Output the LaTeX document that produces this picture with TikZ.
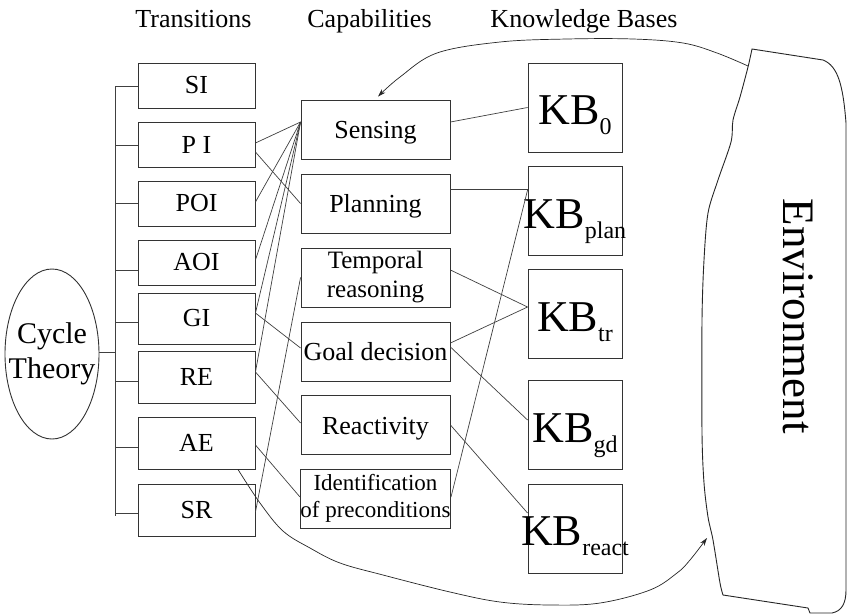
\documentclass[tikz,border=0pt]{standalone}
\usepackage{fontspec}
\setmainfont{Liberation Serif}
\usetikzlibrary{shapes.geometric,arrows.meta}
\newcommand{\fsz}[2]{\fontsize{#1}{#2}\selectfont}
\newcommand{\kbsub}[1]{\raisebox{-10pt}{\fsz{24}{26}#1}}
\begin{document}
\begin{tikzpicture}[x=1pt,y=-1pt,
  boxline/.style={draw=black!80, line width=0.9pt, inner sep=0pt},
  transbox/.style={boxline, minimum width=117pt, font=\fsz{26}{30}},
  capbox/.style={boxline, minimum width=149pt, minimum height=59pt, align=center, font=\fsz{26}{30}},
  oneline/.style={text height=18pt, text depth=0pt},
  kbbox/.style={boxline, minimum width=94pt, minimum height=89pt},
  kbtext/.style={inner sep=0pt, text height=34pt, text depth=0pt, font=\fsz{44}{48}},
  linkline/.style={draw=black!75, line width=0.7pt},
  envline/.style={draw=black!85, line width=0.9pt},
  headtext/.style={anchor=base, font=\fsz{26}{30}},
  arrowtip/.style={-{Stealth[length=8pt,width=5pt]}}
]
\fill[white] (0,0) rectangle (848,614);
\useasboundingbox (0,0) rectangle (848,614);

% column headings
\node[headtext] (hT) at (193.5,27) {Transitions};
\node[headtext] (hC) at (369.5,27) {Capabilities};
\node[headtext] (hK) at (584,27) {Knowledge Bases};

% cycle theory and the bus to the transitions
\node[boxline, ellipse, minimum width=94pt, minimum height=170pt] (cyc) at (52,354) {};
\node[align=center, inner sep=0pt, font=\fsz{30}{35}] (cycText) at (cyc.center) {Cycle\\Theory};
\coordinate (busTop) at (115,86);
\coordinate (busBot) at (115,516);
\draw[linkline] (busTop) -- (busBot);
\draw[linkline] ([yshift=2pt]cyc.east) -- ([yshift=2pt]cyc.east -| busTop);

% transitions
\node[transbox, minimum height=45pt] (SI)  at (196.5,85.5)  {SI};
\node[transbox, minimum height=45pt] (PI)  at (196.5,144.5) {P I};
\node[transbox, minimum height=45pt] (POI) at (196.5,203.5) {POI};
\node[transbox, minimum height=45pt] (AOI) at (196.5,262.5) {AOI};
\node[transbox, minimum height=51pt] (GI)  at (196.5,318.5) {GI};
\node[transbox, minimum height=52pt] (RE)  at (196.5,377)   {RE};
\node[transbox, minimum height=52pt] (AE)  at (196.5,443)   {AE};
\node[transbox, minimum height=52pt] (SR)  at (196.5,510)   {SR};

\draw[linkline] ([yshift=-0.5pt]SI.west) -- +(-23,0);
\draw[linkline] ([yshift=-0.5pt]PI.west) -- +(-23,0);
\draw[linkline] (POI.west) -- +(-23,0);
\draw[linkline] ([yshift=-7.5pt]AOI.west) -- +(-23,0);
\draw[linkline] ([yshift=-3.5pt]GI.west) -- +(-23,0);
\draw[linkline] ([yshift=-4pt]RE.west) -- +(-23,0);
\draw[linkline] ([yshift=-4pt]AE.west) -- +(-23,0);
\draw[linkline] ([yshift=-3pt]SR.west) -- +(-23,0);

% capabilities
\node[capbox, oneline] (sens)  at (375.5,129.5) {Sensing};
\node[capbox, oneline] (plan)  at (375.5,203.5) {Planning};
\node[capbox, font=\fsz{25}{29}] (temp) at (375.5,277.5) {Temporal\\reasoning};
\node[capbox, oneline] (goal)  at (375.5,351.5) {Goal decision};
\node[capbox, oneline] (react) at (375.5,425)   {Reactivity};
\node[capbox, font=\fsz{23}{27}] (ident) at (375.5,498.5) {Identification\\of preconditions};

% knowledge bases
\node[kbbox] (kb0)  at (575,107.5) {};
\node[kbbox] (kbpl) at (575,211)   {};
\node[kbbox] (kbtr) at (575,314)   {};
\node[kbbox] (kbgd) at (575,425)   {};
\node[kbbox] (kbre) at (575,528.5) {};
\node[kbtext] (kb0Text)  at (kb0.center)  {KB\kbsub{0}};
\node[kbtext] (kbplText) at (kbpl.center) {KB\kbsub{plan}};
\node[kbtext] (kbtrText) at (kbtr.center) {KB\kbsub{tr}};
\node[kbtext] (kbgdText) at (kbgd.center) {KB\kbsub{gd}};
\node[kbtext] (kbreText) at (kbre.center) {KB\kbsub{react}};

% transitions -> capabilities
\draw[linkline] ([yshift=1.5pt]PI.east)  -- ([yshift=7.5pt]sens.west);
\draw[linkline] ([yshift=-7.5pt]PI.east) -- (plan.west);
\draw[linkline] ([yshift=1.5pt]POI.east) -- ([yshift=7.5pt]sens.west);
\draw[linkline] ([yshift=2.5pt]AOI.east) -- ([yshift=7.5pt]sens.west);
\draw[linkline] ([yshift=5.5pt]GI.east)  -- ([yshift=7.5pt]sens.west);
\draw[linkline] ([yshift=5.5pt]GI.east)  -- ([yshift=3.5pt]goal.west);
\draw[linkline] ([yshift=5pt]RE.east)    -- ([yshift=7.5pt]sens.west);
\draw[linkline] ([yshift=5pt]RE.east)    -- ([yshift=2pt]react.west);
\draw[linkline] ([yshift=-2pt]AE.east)   -- ([yshift=1.5pt]ident.west);
\draw[linkline] ([yshift=-2pt]SR.east)   -- (temp.west);

% capabilities -> knowledge bases
\draw[linkline] ([yshift=7.5pt]sens.east)   -- (kb0.west);
\draw[linkline] ([yshift=14.5pt]plan.east)  -- ([yshift=22pt]kbpl.west);
\draw[linkline] ([yshift=7.5pt]temp.east)   -- ([yshift=7pt]kbtr.west);
\draw[linkline] ([yshift=8.5pt]goal.east)   -- ([yshift=7pt]kbtr.west);
\draw[linkline] ([yshift=4.5pt]goal.east)   -- ([yshift=5pt]kbgd.west);
\draw[linkline] (react.east)                -- ([yshift=15.5pt]kbre.west);
\draw[linkline] ([yshift=1.5pt]ident.east)  -- ([yshift=21pt]kbpl.west);

% environment
\draw[envline] plot[smooth, tension=0.5] coordinates {(752,49) (748,67) (740,97) (733,120) (731,142) (718,180) (708,213) (704,260) (702,320) (702,433) (704,483) (708,517) (713,540) (720,583) (723,595)}
  -- (808,608) -- (810,613) -- (832,613) .. controls (842,611) and (846,603) .. (846,590)
  -- (846,123) .. controls (843,85) and (838,66) .. (823,60) -- cycle;
\node[rotate=-90, font=\fsz{45}{50}] (env) at (798,316) {Environment};
\coordinate (envTop) at (748,66);
\coordinate (envLow) at (707,538);

% sensing input from the environment
\draw[envline, line width=0.7pt, arrowtip] plot[smooth, tension=0.6] coordinates {(envTop) (717,53) (683,43) (633,39) (567,39) (500,42) (437,53) (400,77) ([xshift=2.5pt,yshift=3pt]sens.north)};
% action output to the environment
\draw[envline, line width=0.7pt, arrowtip] plot[smooth, tension=0.6] coordinates {([xshift=41.5pt]AE.south) (260,503) (283,531) (310,548) (340,563) (383,575) (450,592) (500,602) (550,605) (600,603) (650,590) (677,573) (690,560) (envLow)};
\end{tikzpicture}
\end{document}
